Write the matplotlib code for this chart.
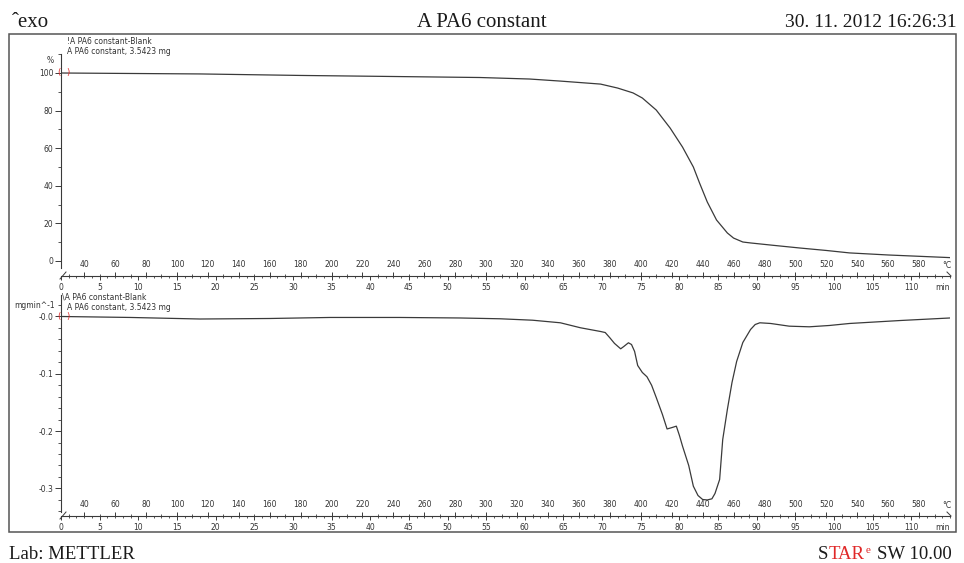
import matplotlib
matplotlib.use("Agg")
import matplotlib.pyplot as plt
from matplotlib.patches import Rectangle
from matplotlib.ticker import FixedLocator, MultipleLocator

# TGA of PA6, 3.5423 mg, heated at 5 K/min from 25 °C
tga_temp = [25, 60, 115, 180, 244, 296, 328, 348, 361, 374, 385, 395, 401, 410,
            419, 427, 434, 438, 443, 449, 456, 460, 466, 471, 485, 503, 520, 535,
            560, 580, 600]
tga_mass = [100.0, 99.8, 99.5, 98.7, 98.1, 97.6, 96.8, 95.7, 94.9, 94.1, 92.0,
            89.4, 86.7, 80.3, 70.7, 60.6, 50.0, 41.5, 31.4, 21.8, 14.9, 12.2,
            10.1, 9.6, 8.4, 6.9, 5.6, 4.3, 3.2, 2.5, 1.8]

# first derivative, mg/min
dtg_temp = [25, 70, 115, 160, 199, 244, 283, 309, 330, 348, 361, 374, 377, 380,
            383, 387, 389, 392, 394, 396, 398, 401, 404, 407, 410, 414, 417, 420,
            423, 425, 427, 431, 434, 437, 440, 443, 446, 448, 451, 453, 456, 459,
            462, 466, 471, 474, 477, 484, 496, 509, 522, 535, 568, 600]
dtg_rate = [0.0, -0.0017, -0.0044, -0.0035, -0.0017, -0.0017, -0.0026, -0.0040,
            -0.0065, -0.0110, -0.0197, -0.0262, -0.0280, -0.0372, -0.0470, -0.0564,
            -0.0524, -0.0459, -0.0489, -0.0610, -0.0855, -0.0977, -0.1052, -0.1200,
            -0.1414, -0.1710, -0.1963, -0.1940, -0.1914, -0.2077, -0.2263, -0.2600,
            -0.2962, -0.3124, -0.3194, -0.3202, -0.3182, -0.3089, -0.2845, -0.2147,
            -0.1623, -0.1152, -0.0785, -0.0454, -0.0227, -0.0140, -0.0110, -0.0122,
            -0.0169, -0.0180, -0.0157, -0.0122, -0.0070, -0.0026]

dtg_ticks = [0.0, -0.1, -0.2, -0.3]
dtg_ticklabels = ["-0.0", "-0.1", "-0.2", "-0.3"]
temp_ticks = list(range(40, 581, 20))
time_ticks = list(range(0, 111, 5))

T0, RATE, T1 = 25.0, 5.0, 600.0

W, H = 964, 563
X0, X1 = 61, 950
INK = "#333333"
LINE = "#3a3a3a"
RED = "#e02828"
SERIF = "Liberation Serif"

plt.rcParams["font.family"] = "DejaVu Sans"
plt.rcParams["text.color"] = INK

fig = plt.figure(figsize=(W / 100, H / 100), dpi=100)

# full-figure helper axes in pixel units for frame and annotations
bg = fig.add_axes([0, 0, 1, 1])
bg.set_xlim(0, W)
bg.set_ylim(H, 0)
bg.axis("off")
bg.add_patch(Rectangle((9, 34), 947, 498, fill=False, lw=1.1, ec="#555555"))


def box(top, bottom):
    return [X0 / W, 1 - bottom / H, (X1 - X0) / W, (bottom - top) / H]


def scale_axis(y):
    # combined °C (above) / min (below) scale
    sc = fig.add_axes(box(y - 0.01, y))
    sc.set_facecolor("none")
    sc.set_xlim(0, (T1 - T0) / RATE)
    sc.set_yticks([])
    for side in ["top", "left", "right"]:
        sc.spines[side].set_visible(False)
    sc.spines["bottom"].set_color(LINE)
    sc.spines["bottom"].set_linewidth(0.8)
    sc.xaxis.set_major_locator(FixedLocator(time_ticks))
    sc.xaxis.set_minor_locator(MultipleLocator(1))
    sc.tick_params(axis="x", which="major", length=3.0, width=0.7, color=LINE,
                   labelsize=5.5, labelcolor=INK, pad=2.0)
    sc.tick_params(axis="x", which="minor", length=1.7, width=0.6, color=LINE)

    st = sc.twiny()
    st.set_facecolor("none")
    st.set_xlim(T0, T1)
    for side in st.spines:
        st.spines[side].set_visible(False)
    st.xaxis.set_major_locator(FixedLocator(temp_ticks))
    st.xaxis.set_minor_locator(FixedLocator(range(30, 600, 10)))
    st.tick_params(axis="x", which="major", length=3.0, width=0.7, color=LINE,
                   labelsize=5.5, labelcolor=INK, pad=2.2)
    st.tick_params(axis="x", which="minor", length=1.7, width=0.6, color=LINE)

    bg.text(X1 - 3, y - 10.5, "°C", fontsize=5.5, ha="center", va="center")
    bg.text(X1 - 7, y + 11, "min", fontsize=5.5, ha="center", va="center")
    bg.plot([X0 - 1, X0 + 5], [y + 3, y - 4], color=LINE, lw=0.7)
    bg.plot([X1 - 3, X1 + 1], [y - 4, y], color=LINE, lw=0.7)


def panel(top, bottom, ylim, spine_lo):
    ax = fig.add_axes(box(top, bottom))
    ax.set_facecolor("none")
    ax.set_xlim(T0, T1)
    ax.set_ylim(*ylim)
    for side in ["top", "right", "bottom"]:
        ax.spines[side].set_visible(False)
    ax.spines["left"].set_bounds(spine_lo, ylim[1])
    ax.spines["left"].set_color(LINE)
    ax.spines["left"].set_linewidth(0.8)
    ax.tick_params(axis="x", bottom=False, labelbottom=False)
    ax.tick_params(axis="y", which="major", length=4, width=0.7, color=LINE,
                   labelsize=5.5, labelcolor=INK, pad=1.5)
    ax.tick_params(axis="y", which="minor", length=2.4, width=0.6, color=LINE)
    scale_axis(bottom)
    return ax


def start_marks(ax, x, y):
    ax.annotate("(", xy=(x, y), xytext=(-1.3, 0), textcoords="offset points",
                ha="center", va="center", color=RED, fontsize=6, annotation_clip=False)
    ax.annotate(")", xy=(x, y), xytext=(5.0, 0), textcoords="offset points",
                ha="center", va="center", color=RED, fontsize=6, annotation_clip=False)


# mass loss
ax1 = panel(54.2, 276, (-7.98, 110), -3.5)
ax1.yaxis.set_major_locator(MultipleLocator(20))
ax1.yaxis.set_minor_locator(MultipleLocator(10))
ax1.plot(tga_temp, tga_mass, color=LINE, lw=0.9)
start_marks(ax1, tga_temp[0], tga_mass[0])
bg.text(50, 60.5, "%", fontsize=5.5, ha="center", va="center")
bg.text(67, 42, "!A PA6 constant-Blank", fontsize=5.5, va="center")
bg.text(67, 52, "A PA6 constant, 3.5423 mg", fontsize=5.5, va="center")

# derivative
ax2 = panel(295, 516, (-0.3482, 0.0375), -0.342)
ax2.yaxis.set_major_locator(FixedLocator(dtg_ticks))
ax2.set_yticklabels(dtg_ticklabels)
ax2.yaxis.set_minor_locator(MultipleLocator(0.02))
ax2.plot(dtg_temp, dtg_rate, color=LINE, lw=0.9)
start_marks(ax2, dtg_temp[0], dtg_rate[0])
bg.text(55, 305, "mgmin^-1", fontsize=5.5, ha="right", va="center")
bg.text(62, 297.5, "\\A PA6 constant-Blank", fontsize=5.5, va="center")
bg.text(67, 308, "A PA6 constant, 3.5423 mg", fontsize=5.5, va="center")

# header and footer
head = dict(family=SERIF, color="#1a1a1a", va="baseline")
bg.text(12, 27, "ˆexo", fontsize=15, **head)
bg.text(482, 27, "A PA6 constant", fontsize=15, ha="center", **head)
bg.text(957, 27, "30. 11. 2012 16:26:31", fontsize=14, ha="right", **head)
bg.text(9, 559, "Lab: METTLER", fontsize=13.5, **head)

foot = dict(family=SERIF, fontsize=13.5)
s1 = bg.text(818, 559, "S", color="#1a1a1a", va="baseline", **foot)
s2 = bg.annotate("TAR", xy=(1, 0), xycoords=s1, va="bottom", ha="left",
                 color=RED, **foot)
bg.annotate("e", xy=(1, 0.45), xycoords=s2, xytext=(1, 0), textcoords="offset points",
            va="bottom", ha="left", color=RED, family=SERIF, fontsize=8)
bg.annotate("SW 10.00", xy=(1, 0), xycoords=s2, xytext=(9, 0), textcoords="offset points",
            va="bottom", ha="left", color="#1a1a1a", **foot)

fig.savefig("out.png", dpi=100)
